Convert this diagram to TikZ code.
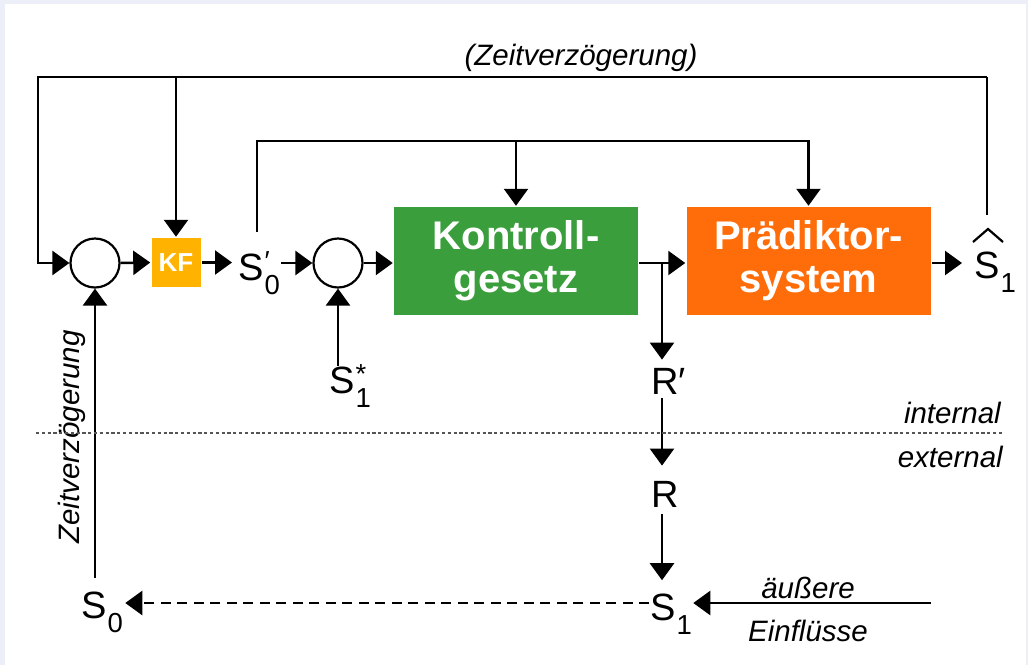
\documentclass[tikz,border=0pt]{standalone}
\usepackage{fontspec}
\setmainfont{Liberation Sans}
\usetikzlibrary{arrows.meta,calc}
\definecolor{framecol}{HTML}{ECEFF8}
\definecolor{kgreen}{HTML}{3A9E3C}
\definecolor{porange}{HTML}{FF6D0A}
\definecolor{kfgold}{HTML}{FFB300}
\definecolor{sepgray}{HTML}{555555}
\newcommand\subsz{\fontsize{27.5}{27.5}\selectfont}
\newcommand\SSub[3]{#1\hspace{0.03em}\rlap{\raisebox{-0.37em}{\subsz #2}}\rlap{\raisebox{0.24em}{\subsz #3}}\hphantom{\subsz #2}}
\begin{document}
\begin{tikzpicture}[x=1pt,y=-1pt,
  line width=2.5pt,
  arr/.style={-{Triangle[length=17pt,width=24pt]}},
  lbl/.style={inner sep=0pt,font=\fontsize{38}{38}\selectfont},
  ital/.style={inner sep=0pt,font=\fontsize{29.5}{29.5}\selectfont\itshape},
  blk/.style={draw=none,minimum width=244pt,minimum height=108pt,align=center,text=white,
              font=\fontsize{40}{43}\selectfont\bfseries},
  sumc/.style={circle,draw,minimum size=49pt,inner sep=0pt,line width=2.2pt},
  sep/.style={sepgray,line width=1.3pt,dash pattern=on 3.2pt off 2.6pt},
  dsh/.style={dash pattern=on 10pt off 6.5pt}]
\fill[framecol] (0,0) rectangle (1028,665);
\fill[white] (5,4) rectangle (1026,665);
\useasboundingbox (0,0) rectangle (1028,665);

% blocks
\node[sumc] (c1) at (95,263) {};
\node[sumc] (c2) at (338,263) {};
\node[fill=kfgold,minimum size=49pt,inner sep=0pt,text=white,
      font=\fontsize{26}{26}\selectfont\bfseries] (kf) at (176,262.5) {KF};
\node[blk,fill=kgreen] (kg) at (516,261) {Kontroll-\\gesetz};
\node[blk,fill=porange] (pd) at (808.5,261) {Prädiktor-\\system};

% labels
\node[lbl,anchor=base west] (s0p) at (237,280) {\SSub{S}{0}{′}};
\node[lbl,anchor=base west] (s1star) at (328,393) {\SSub{S}{1}{*}};
\node[lbl,anchor=base west] (s1hat) at (973,278) {\SSub{S}{1}{}};
\node[lbl,anchor=base west] (rp) at (650,394) {R′};
\node[lbl,anchor=base west] (r) at (650,507) {R};
\node[lbl,anchor=base west] (s1) at (649,620) {\SSub{S}{1}{}};
\node[lbl,anchor=base west] (s0) at (80,618) {\SSub{S}{0}{}};

% texts
\node[ital] (tz) at (581,58) {(Zeitverzögerung)};
\node[ital,rotate=90] (lz) at (72,437) {Zeitverzögerung};
\node[ital,anchor=east] (tint) at (1002,413) {internal};
\node[ital,anchor=east] (text) at (1004,457) {external};
\node[ital] (tau) at (808,588) {äußere};
\node[ital] (tein) at (808,631) {Einflüsse};

% coordinates
\coordinate (tl) at (38,77);
\coordinate (tr) at (987,77);
\coordinate (hatend) at (987,215);
\coordinate (sl) at (257,141);
\coordinate (sr) at (808.5,141);
\coordinate (s0top) at (257,232);
\coordinate (br) at (662,263);
\coordinate (ex) at (931,603);
\coordinate (sepl) at (36,433);
\coordinate (sepr) at (1003,433);

% hat over S1
\draw[line width=2.2pt] ($(s1hat.base west)+(0,-36)$) -- ($(s1hat.base west)+(15,-49)$) -- ($(s1hat.base west)+(30,-36)$);

% top feedback loop
\draw (hatend) -- (tr);
\draw[arr] (tr) -- (tl) -- (tl |- c1) -- (c1.west);
\draw[arr] (tl -| kf) -- (kf.north);

% second loop
\draw[arr] (s0top) -- (sl) -- (sr) -- (pd.north);
\draw[arr] (sl -| kg) -- (kg.north);

% main chain
\draw[arr] (c1.east) -- (kf.west);
\draw[arr,shorten >=5pt] (kf.east) -- (kf.east -| s0p.west);
\draw[arr] (s0p.east |- c2) -- (c2.west);
\draw[arr] (c2.east) -- (c2.east -| kg.west);
\draw[arr] (kg.east |- br) -- (pd.west |- br);
\draw[arr,shorten >=11pt] (pd.east |- br) -- (s1hat.west |- br);
\draw[arr] ($(s1star.north -| c2)+(0,2)$) -- (c2.south);

% down chain
\draw[arr] (br) -- ($(rp.north -| br)+(0,-7)$);
\draw[arr] ($(rp.south -| br)+(0,3)$) -- ($(r.north -| br)+(0,-14)$);
\draw[arr] ($(r.south -| br)+(0,6)$) -- ($(s1.north -| br)+(0,-12)$);

% bottom
\draw[arr] (ex) -- (ex -| s1.east);
\draw[arr,dsh] (s1.west |- ex) -- ($(s0.east |- ex)+(1,0)$);
\draw[arr] ($(s0.north -| c1)+(0,-12)$) -- (c1.south);

% separator
\draw[sep] (sepl) -- (sepr);
\end{tikzpicture}
\end{document}
